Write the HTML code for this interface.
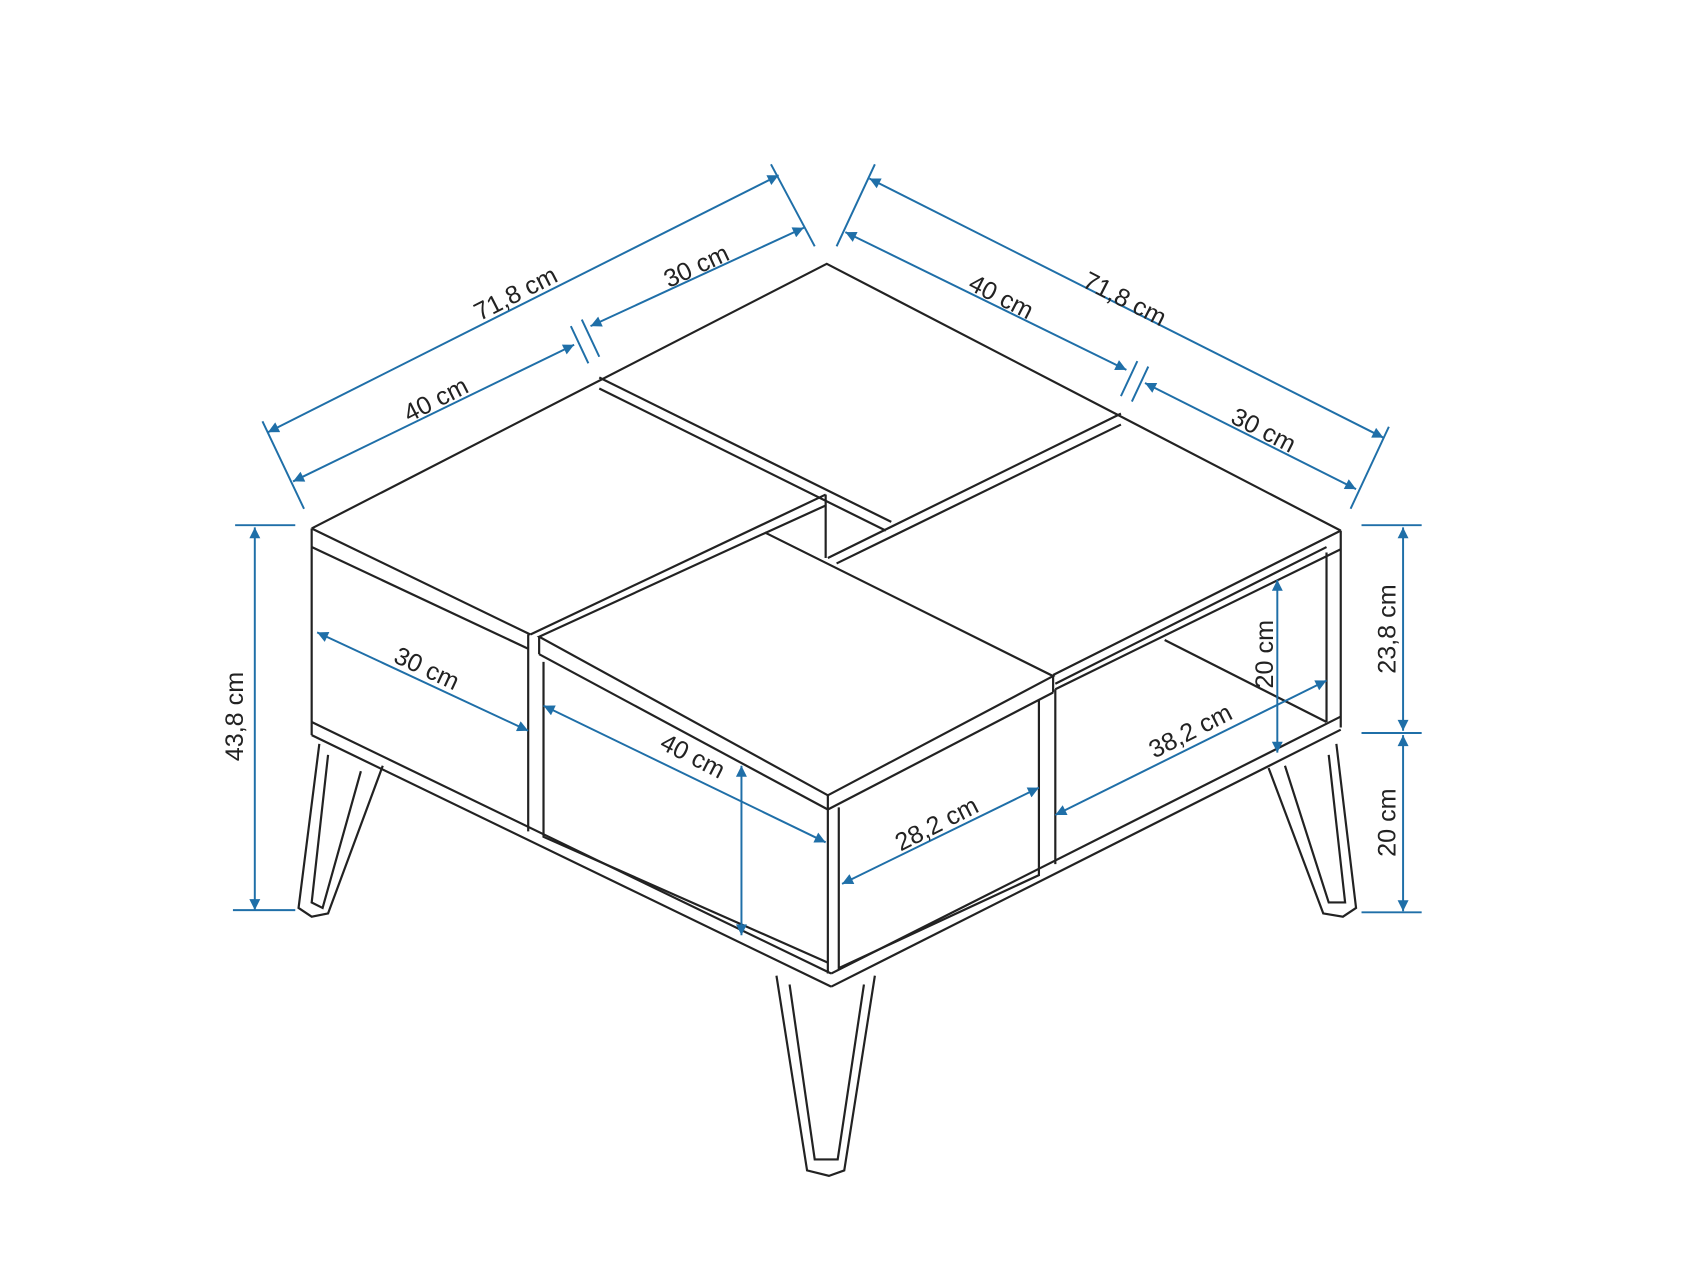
<!DOCTYPE html>
<html><head><meta charset="utf-8"><style>
html,body{margin:0;padding:0;background:#fff;}
svg{display:block;}
text{font-family:"Liberation Sans",sans-serif;font-size:23px;fill:#222;}
</style></head><body>
<svg width="1706" height="1280" viewBox="0 0 1560 1170" xmlns="http://www.w3.org/2000/svg">
<defs>
<marker id="a" viewBox="0 0 10 10" refX="10" refY="5" markerWidth="16" markerHeight="10" orient="auto-start-reverse" markerUnits="userSpaceOnUse"><path d="M0,0 L10,5 L0,10 z" fill="#1f6fa8"/></marker>
</defs>
<g fill="none" stroke="#222" stroke-width="2">
<polyline points="285,483 756,241 1226,485"/>
<line x1="285" y1="483" x2="485" y2="580"/>
<line x1="285" y1="500" x2="483" y2="593"/>
<line x1="285" y1="483" x2="285" y2="500"/>
<line x1="1226" y1="485" x2="963" y2="617"/>
<line x1="1226" y1="502" x2="965" y2="630"/>
<line x1="1226" y1="485" x2="1226" y2="665"/>
<line x1="1213" y1="505" x2="1213" y2="660"/>
<line x1="548" y1="345" x2="815" y2="477"/>
<line x1="548" y1="355" x2="810" y2="485"/>
<line x1="1025" y1="378" x2="757" y2="510"/>
<line x1="1025" y1="388" x2="765" y2="515"/>
<line x1="755" y1="452" x2="485" y2="580"/>
<line x1="755" y1="452" x2="755" y2="510"/>
<line x1="755" y1="462" x2="700" y2="487"/>
<polygon points="493,582 700,487 963,618 757,727"/>
<line x1="493" y1="582" x2="493" y2="598"/>
<line x1="493" y1="598" x2="757" y2="740"/>
<line x1="757" y1="727" x2="757" y2="740"/>
<line x1="757" y1="740" x2="963" y2="633"/>
<line x1="963" y1="618" x2="963" y2="633"/>
<polyline points="497,605 497,765 757,880"/>
<polyline points="767,738 767,885 950,800 950,640"/>
<line x1="757" y1="740" x2="757" y2="890"/>
<line x1="965" y1="630" x2="965" y2="790"/>
<line x1="483" y1="580" x2="483" y2="760"/>
<line x1="285" y1="500" x2="285" y2="660"/>
<line x1="285" y1="660" x2="760" y2="890"/>
<line x1="285" y1="672" x2="760" y2="902"/>
<line x1="285" y1="660" x2="285" y2="672"/>
<line x1="760" y1="890" x2="1226" y2="655"/>
<line x1="760" y1="902" x2="1226" y2="667"/>
<line x1="965" y1="625" x2="1213" y2="500"/>
<line x1="1065" y1="585" x2="1213" y2="660"/>
<polyline points="292,680 273,830 285,838 300,835 350,700"/>
<polyline points="300,690 285,825 295,830 330,705"/>
<polyline points="710,892 738,1070 758,1075 772,1070 800,892"/>
<polyline points="722,900 745,1060 766,1060 790,900"/>
<polyline points="1160,702 1210,835 1228,838 1240,830 1222,680"/>
<polyline points="1175,700 1215,825 1230,825 1215,690"/>
</g>
<g stroke="#1f6fa8" stroke-width="1.8" fill="none">
<line x1="245" y1="395" x2="712" y2="160" marker-start="url(#a)" marker-end="url(#a)"/>
<line x1="540" y1="298" x2="735" y2="208" marker-start="url(#a)" marker-end="url(#a)"/>
<line x1="268" y1="440" x2="525" y2="315" marker-start="url(#a)" marker-end="url(#a)"/>
<line x1="240" y1="385" x2="278" y2="465"/><line x1="705" y1="150" x2="745" y2="225"/>
<line x1="522" y1="298" x2="538" y2="332"/><line x1="532" y1="292" x2="548" y2="326"/>
<line x1="795" y1="163" x2="1265" y2="400" marker-start="url(#a)" marker-end="url(#a)"/>
<line x1="773" y1="212" x2="1030" y2="338" marker-start="url(#a)" marker-end="url(#a)"/>
<line x1="1047" y1="350" x2="1240" y2="447" marker-start="url(#a)" marker-end="url(#a)"/>
<line x1="800" y1="150" x2="765" y2="225"/><line x1="1270" y1="390" x2="1235" y2="465"/>
<line x1="1040" y1="330" x2="1025" y2="362"/><line x1="1050" y1="335" x2="1035" y2="367"/>
<line x1="233" y1="482" x2="233" y2="832" marker-start="url(#a)" marker-end="url(#a)"/>
<line x1="215" y1="480" x2="270" y2="480"/><line x1="213" y1="832" x2="270" y2="832"/>
<line x1="1283" y1="482" x2="1283" y2="668" marker-start="url(#a)" marker-end="url(#a)"/>
<line x1="1283" y1="672" x2="1283" y2="833" marker-start="url(#a)" marker-end="url(#a)"/>
<line x1="1245" y1="480" x2="1300" y2="480"/><line x1="1245" y1="670" x2="1300" y2="670"/><line x1="1245" y1="834" x2="1300" y2="834"/>
<line x1="1168" y1="530" x2="1168" y2="688" marker-start="url(#a)" marker-end="url(#a)"/>
<line x1="290" y1="578" x2="483" y2="668" marker-start="url(#a)" marker-end="url(#a)"/>
<line x1="497" y1="645" x2="755" y2="770" marker-start="url(#a)" marker-end="url(#a)"/>
<line x1="678" y1="700" x2="678" y2="855" marker-start="url(#a)" marker-end="url(#a)"/>
<line x1="770" y1="808" x2="950" y2="720" marker-start="url(#a)" marker-end="url(#a)"/>
<line x1="965" y1="745" x2="1213" y2="622" marker-start="url(#a)" marker-end="url(#a)"/>
</g>
<g text-anchor="middle">
<text transform="translate(475,275) rotate(-27)">71,8 cm</text>
<text transform="translate(640,250) rotate(-25)">30 cm</text>
<text transform="translate(402,372) rotate(-27)">40 cm</text>
<text transform="translate(1025,280) rotate(27)">71,8 cm</text>
<text transform="translate(912,278) rotate(27)">40 cm</text>
<text transform="translate(1152,400) rotate(27)">30 cm</text>
<text transform="translate(222,655) rotate(-90)">43,8 cm</text>
<text transform="translate(1276,575) rotate(-90)">23,8 cm</text>
<text transform="translate(1276,752) rotate(-90)">20 cm</text>
<text transform="translate(1164,598) rotate(-90)">20 cm</text>
<text transform="translate(387,618) rotate(25)">30 cm</text>
<text transform="translate(630,698) rotate(27)">40 cm</text>
<text transform="translate(860,760) rotate(-27)">28,2 cm</text>
<text transform="translate(1092,675) rotate(-27)">38,2 cm</text>
</g>
</svg>
</body></html>
